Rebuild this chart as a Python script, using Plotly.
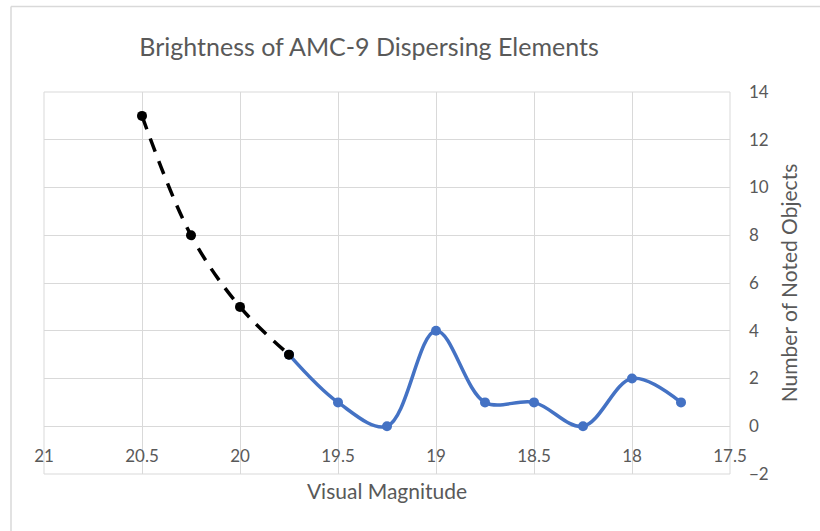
import plotly.graph_objects as go

# Data
mag_observed = [19.75, 19.5, 19.25, 19.0, 18.75, 18.5, 18.25, 18.0, 17.75]
count_observed = [3, 1, 0, 4, 1, 1, 0, 2, 1]
mag_extrap = [20.5, 20.25, 20.0, 19.75]
count_extrap = [13, 8, 5, 3]
x_ticks = [21, 20.5, 20, 19.5, 19, 18.5, 18, 17.5]
x_tick_text = ["21", "20.5", "20", "19.5", "19", "18.5", "18", "17.5"]
y_ticks = [-2, 0, 2, 4, 6, 8, 10, 12, 14]

FONT = "Lato"
GRAY = "#595959"
GRID = "#d9d9d9"

W, H = 820, 531
L, R, T, B = 44, 90, 92, 57

fig = go.Figure()
fig.add_trace(go.Scatter(
    x=mag_observed, y=count_observed, mode="lines+markers",
    line=dict(color="#4472C4", width=3.5, shape="spline", smoothing=1.0),
    marker=dict(color="#4472C4", size=10),
    showlegend=False, hoverinfo="x+y",
))
fig.add_trace(go.Scatter(
    x=mag_extrap, y=count_extrap, mode="lines+markers",
    line=dict(color="#000000", width=3.5, dash="14px,10px", shape="spline", smoothing=1.0),
    marker=dict(color="#000000", size=10),
    showlegend=False, hoverinfo="x+y",
))

y0_frac = (0 - (-2)) / (14 - (-2))

pw = W - L - R
ph = H - T - B
def px_to_paper_x(px):
    return (px - L) / pw
def px_to_paper_y(py):
    return (H - B - py) / ph

fig.update_layout(
    width=W, height=H,
    margin=dict(l=L, r=R, t=T, b=B),
    paper_bgcolor="white", plot_bgcolor="white",
    font=dict(family=FONT, color=GRAY, size=17),
    title=dict(text="Brightness of AMC-9 Dispersing Elements",
               x=369 / W, xanchor="center", y=1 - 47 / H, yanchor="middle",
               font=dict(family=FONT, size=25, color=GRAY)),
    xaxis=dict(
        range=[21, 17.5], tickvals=x_ticks, ticktext=x_tick_text,
        showgrid=True, gridcolor=GRID, gridwidth=1,
        zeroline=False, showline=False, ticks="",
        anchor="free", position=y0_frac,
        ticklabelstandoff=18,
        tickfont=dict(size=17, color=GRAY),
        title=dict(text="Visual Magnitude", font=dict(size=21, color=GRAY), standoff=19),
        automargin=False,
    ),
    yaxis=dict(
        range=[-2, 14], tickvals=y_ticks, side="right",
        showgrid=True, gridcolor=GRID, gridwidth=1,
        zeroline=False, showline=False, ticks="",
        ticklabelstandoff=18,
        tickfont=dict(size=17, color=GRAY),
        title=dict(text="Number of Noted Objects", font=dict(size=21, color=GRAY), standoff=14),
        automargin=False,
    ),
    shapes=[
        dict(type="line", xref="paper", yref="paper",
             x0=px_to_paper_x(11), x1=px_to_paper_x(W + 5),
             y0=px_to_paper_y(6.5), y1=px_to_paper_y(6.5),
             line=dict(color=GRID, width=1.5)),
        dict(type="line", xref="paper", yref="paper",
             x0=px_to_paper_x(11), x1=px_to_paper_x(11),
             y0=px_to_paper_y(6.5), y1=px_to_paper_y(H + 5),
             line=dict(color=GRID, width=1.5)),
        dict(type="rect", xref="paper", yref="paper", x0=0, x1=1, y0=0, y1=1,
             line=dict(color=GRID, width=1), layer="below"),
    ],
)

fig.write_html("out.html")
